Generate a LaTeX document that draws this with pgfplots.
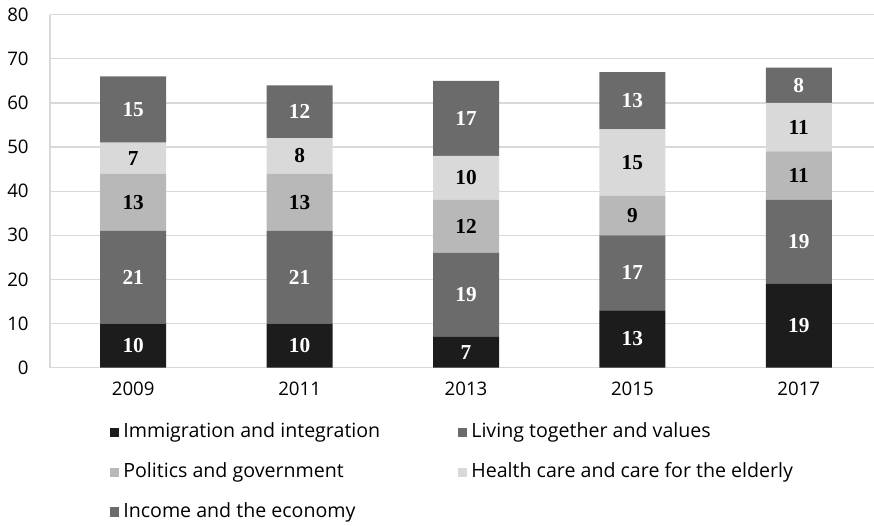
\documentclass[border=0pt]{standalone}
\usepackage{fontspec}
\setmainfont{Open Sans}
\newfontfamily\valfont{Liberation Serif}
\usepackage{pgfplots}
\usepackage{pgfplotstable}
\pgfplotsset{compat=1.18}
\definecolor{cImm}{HTML}{1C1C1C}
\definecolor{cLiv}{HTML}{6B6B6B}
\definecolor{cPol}{HTML}{B8B8B8}
\definecolor{cHea}{HTML}{D9D9D9}
\definecolor{cInc}{HTML}{6B6B6B}
\definecolor{cGrid}{HTML}{D9D9D9}
\pgfplotstableread{
x imm liv pol hea inc
0 10 21 13 7 15
1 10 21 13 8 12
2 7 19 12 10 17
3 13 17 9 15 13
4 19 19 11 11 8
}\datatable
\begin{document}
\begin{tikzpicture}
\path[use as bounding box] (0,0) rectangle (655.5pt,393.75pt);
\begin{axis}[
  at={(37.5pt,118pt)}, anchor=south west,
  scale only axis, width=624pt, height=264.75pt,
  ybar stacked, bar width=49.5pt,
  xmin=-0.5, xmax=4.5, ymin=0, ymax=80,
  xtick={0,1,2,3,4}, xticklabels={2009,2011,2013,2015,2017},
  ytick={0,10,...,80},
  ymajorgrids, grid style={color=cGrid, line width=0.9pt},
  axis x line*=bottom, axis y line*=left,
  axis line style={-, color=cGrid, line width=0.9pt},
  major tick length=0pt,
  tick label style={font=\fontsize{14}{16}\selectfont, text=black},
  /pgf/number format/assume math mode=true,
  yticklabel style={xshift=-12.5pt},
  xticklabel style={yshift=-7pt},
  nodes near coords,
  point meta=explicit,
  nodes near coords align={center},
  every node near coord/.append style={font=\valfont\bfseries\fontsize{16}{18}\selectfont, anchor=center},
  legend columns=2,
  legend cell align=left,
  legend image code/.code={\fill[#1] (0pt,-3.5pt) rectangle (7pt,3.5pt);},
  legend style={draw=none, fill=none, at={(0.067,-0.149)}, anchor=north west,
    font=\fontsize{14.7}{17}\selectfont,
    nodes={text height=11pt, text depth=3pt, inner ysep=0pt, inner xsep=3pt},
    row sep=15.8pt},
]
\addplot[fill=cImm, draw=none, every node near coord/.append style={text=white}] table[x=x, y=imm, meta=imm] {\datatable};
\addlegendentry{\makebox[248pt][l]{Immigration and integration}}
\addplot[fill=cLiv, draw=none, every node near coord/.append style={text=white}] table[x=x, y=liv, meta=liv] {\datatable};
\addlegendentry{Living together and values}
\addplot[fill=cPol, draw=none, every node near coord/.append style={text=black}] table[x=x, y=pol, meta=pol] {\datatable};
\addlegendentry{\makebox[248pt][l]{Politics and government}}
\addplot[fill=cHea, draw=none, every node near coord/.append style={text=black}] table[x=x, y=hea, meta=hea] {\datatable};
\addlegendentry{Health care and care for the elderly}
\addplot[fill=cInc, draw=none, every node near coord/.append style={text=white}] table[x=x, y=inc, meta=inc] {\datatable};
\addlegendentry{\makebox[248pt][l]{Income and the economy}}
\end{axis}
\end{tikzpicture}
\end{document}
